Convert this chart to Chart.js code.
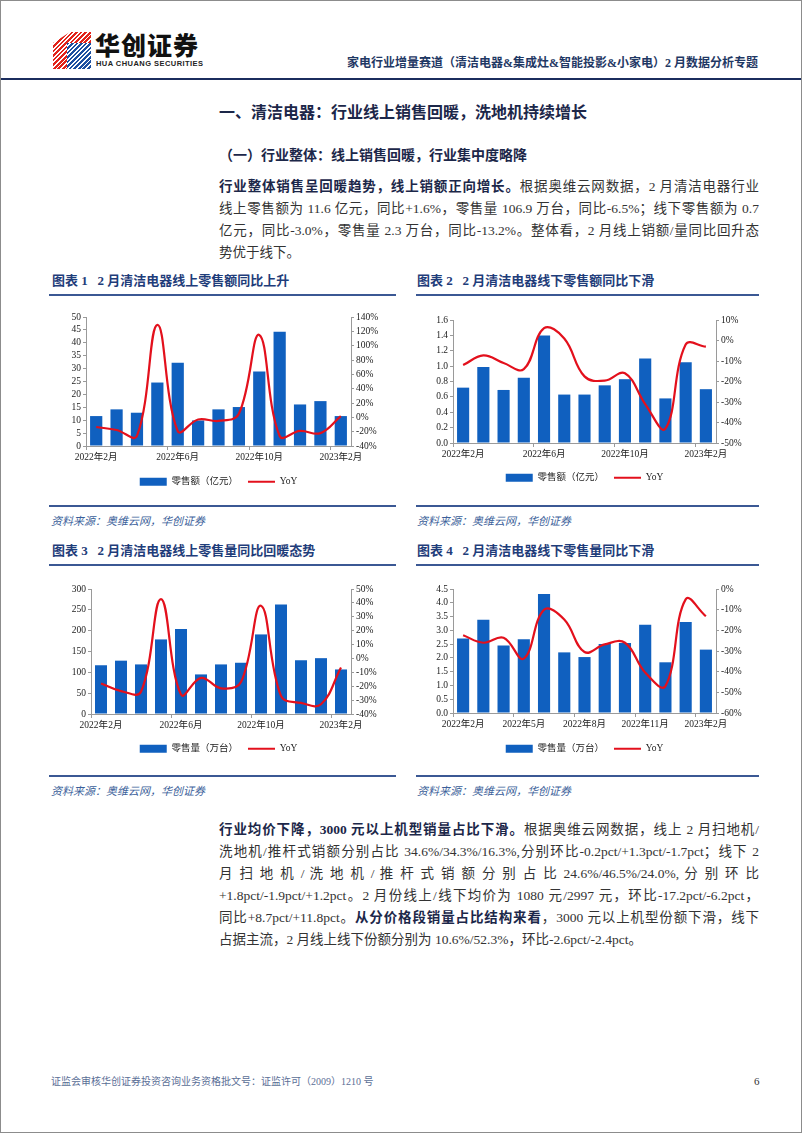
<!DOCTYPE html>
<html>
<head>
<meta charset="utf-8">
<script src="https://cdn.jsdelivr.net/npm/chart.js@4.4.0/dist/chart.umd.min.js"></script>
<style>
  body { margin: 0; background: #fff; }
  #page {
    position: relative; width: 802px; height: 1133px; box-sizing: border-box;
    border: 1px solid #8c8c8c; overflow: hidden;
    font-family: "Liberation Serif", "Noto Sans CJK SC", serif; color: #333;
  }
  .a { position: absolute; white-space: nowrap; }
  .line { position: absolute; left: 218px; width: 540px; height: 22px; line-height: 22px;
          font-size: 13.5px; white-space: nowrap; text-align: justify; text-align-last: justify; }
  .line.last { text-align: left; text-align-last: left; }
  .b { font-weight: bold; color: #1c2749; }
  .ctitle { position: absolute; font-size: 13px; font-weight: bold; color: #1f3d7a; line-height: 18px; }
  .rule { position: absolute; height: 2px; background: #3b5894; }
  .src { position: absolute; font-size: 11px; font-style: italic; color: #3c5f9a; line-height: 16px; }
  .box { position: absolute; }
</style>
</head>
<body>
<div id="page">
  <!-- header -->
  <div class="a" style="left:52px;top:31px;width:38px;height:37px;
       background:repeating-linear-gradient(135deg,#e2231a 0 2px,#fff 2px 3.2px);
       clip-path:polygon(0 30%,45% 0,100% 0,100% 100%,0 100%);"></div>
  <div class="a" style="left:66px;top:42px;width:24px;height:26px;
       background:repeating-linear-gradient(135deg,#1d4fa0 0 2px,#fff 2px 3.2px);"></div>
  <div class="a" style="left:94px;top:27px;font-family:'Noto Sans CJK SC';font-weight:900;font-size:25px;color:#111;letter-spacing:1px;line-height:32px;">华创证券</div>
  <div class="a" style="left:95px;top:58px;font-family:'Liberation Sans';font-weight:bold;font-size:7.5px;color:#222;letter-spacing:0.45px;line-height:9px;">HUA CHUANG SECURITIES</div>
  <div class="a" style="right:43px;top:54px;font-size:12px;font-weight:bold;color:#1f3864;line-height:16px;">家电行业增量赛道（清洁电器&amp;集成灶&amp;智能投影&amp;小家电）2 月数据分析专题</div>
  <div class="a" style="left:0;top:77px;width:802px;height:2px;background:#1b2d5e;"></div>

  <!-- headings -->
  <div class="a" style="left:218px;top:100px;font-size:16px;font-weight:bold;color:#1c2749;line-height:24px;">一、清洁电器：行业线上销售回暖，洗地机持续增长</div>
  <div class="a" style="left:218px;top:145px;font-size:14px;font-weight:bold;color:#1c2749;line-height:20px;">（一）行业整体：线上销售回暖，行业集中度略降</div>

  <div class="line" style="top:175px;"><span class="b">行业整体销售呈回暖趋势，线上销额正向增长。</span>根据奥维云网数据，2 月清洁电器行业</div>
  <div class="line" style="top:197px;">线上零售额为 11.6 亿元，同比+1.6%，零售量 106.9 万台，同比-6.5%；线下零售额为 0.7</div>
  <div class="line" style="top:219px;">亿元，同比-3.0%，零售量 2.3 万台，同比-13.2%。整体看，2 月线上销额/量同比回升态</div>
  <div class="line last" style="top:241px;">势优于线下。</div>

  <!-- chart titles row 1 -->
  <div class="ctitle" style="left:51px;top:271px;">图表 1&nbsp;&nbsp;&nbsp;2 月清洁电器线上零售额同比上升</div>
  <div class="rule" style="left:48px;top:293px;width:347px;"></div>
  <div class="ctitle" style="left:416px;top:271px;">图表 2&nbsp;&nbsp;&nbsp;2 月清洁电器线下零售额同比下滑</div>
  <div class="rule" style="left:415px;top:293px;width:343px;"></div>

  <div class="box" style="left:48px;top:298px;"><canvas id="c1" width="347" height="202"></canvas></div>
  <div class="box" style="left:415px;top:298px;"><canvas id="c2" width="345" height="202"></canvas></div>

  <div class="rule" style="left:48px;top:504px;width:347px;"></div>
  <div class="rule" style="left:415px;top:504px;width:343px;"></div>
  <div class="src" style="left:50px;top:512px;">资料来源：奥维云网，华创证券</div>
  <div class="src" style="left:416px;top:512px;">资料来源：奥维云网，华创证券</div>

  <!-- chart titles row 2 -->
  <div class="ctitle" style="left:51px;top:541px;">图表 3&nbsp;&nbsp;&nbsp;2 月清洁电器线上零售量同比回暖态势</div>
  <div class="rule" style="left:48px;top:563px;width:347px;"></div>
  <div class="ctitle" style="left:416px;top:541px;">图表 4&nbsp;&nbsp;&nbsp;2 月清洁电器线下零售量同比下滑</div>
  <div class="rule" style="left:415px;top:563px;width:343px;"></div>

  <div class="box" style="left:48px;top:568px;"><canvas id="c3" width="347" height="202"></canvas></div>
  <div class="box" style="left:415px;top:568px;"><canvas id="c4" width="345" height="202"></canvas></div>

  <div class="rule" style="left:48px;top:774px;width:347px;"></div>
  <div class="rule" style="left:415px;top:774px;width:343px;"></div>
  <div class="src" style="left:50px;top:782px;">资料来源：奥维云网，华创证券</div>
  <div class="src" style="left:416px;top:782px;">资料来源：奥维云网，华创证券</div>

  <!-- paragraph 2 -->
  <div class="line" style="top:818px;"><span class="b">行业均价下降，3000 元以上机型销量占比下滑。</span>根据奥维云网数据，线上 2 月扫地机/</div>
  <div class="line" style="top:840px;">洗地机/推杆式销额分别占比 34.6%/34.3%/16.3%,分别环比-0.2pct/+1.3pct/-1.7pct；线下 2</div>
  <div class="line" style="top:862px;">月 扫 地 机 / 洗 地 机 / 推 杆 式 销 额 分 别 占 比 24.6%/46.5%/24.0%, 分 别 环 比</div>
  <div class="line" style="top:884px;">+1.8pct/-1.9pct/+1.2pct。2 月份线上/线下均价为 1080 元/2997 元，环比-17.2pct/-6.2pct，</div>
  <div class="line" style="top:906px;">同比+8.7pct/+11.8pct。<span class="b">从分价格段销量占比结构来看</span>，3000 元以上机型份额下滑，线下</div>
  <div class="line last" style="top:928px;">占据主流，2 月线上线下份额分别为 10.6%/52.3%，环比-2.6pct/-2.4pct。</div>

  <!-- footer -->
  <div class="a" style="left:50px;top:1074px;font-size:10px;color:#5a6e96;line-height:14px;">证监会审核华创证券投资咨询业务资格批文号：证监许可（2009）1210 号</div>
  <div class="a" style="left:753px;top:1073px;font-size:11px;color:#333;line-height:14px;">6</div>
</div>

<script>
// months 2022-02 .. 2023-02
var months = ["2022年2月","2022年3月","2022年4月","2022年5月","2022年6月","2022年7月","2022年8月",
              "2022年9月","2022年10月","2022年11月","2022年12月","2023年1月","2023年2月"];

// 图表1 线上零售额（亿元）/ YoY(%)
var onlineSales    = [11.6, 14.2, 12.9, 24.6, 32.3, 9.9, 14.2, 15.1, 28.9, 44.3, 16.1, 17.4, 11.6];
var onlineSalesYoY = [-13.5, -17.7, -26, 129, -19, -3, -5, 5, 115, -26, -19, -22, 1.6];

// 图表2 线下零售额（亿元）/ YoY(%)
var offlineSales    = [0.72, 0.99, 0.69, 0.85, 1.40, 0.63, 0.63, 0.75, 0.83, 1.10, 0.58, 1.05, 0.70];
var offlineSalesYoY = [-12, -7.3, -11, -14, 6, 1, -17.5, -19.6, -16, -31, -43, -2, -3.0];

// 图表3 线上零售量（万台）/ YoY(%)
var onlineVolume    = [117, 128, 119, 179, 204, 95, 119, 123, 191, 263, 129, 134, 106.9];
var onlineVolumeYoY = [-18, -23.5, -24, 42.7, -26, -14, -21.5, -17, 38, -27, -32, -33, -6.5];

// 图表4 线下零售量（万台）/ YoY(%)
var offlineVolume    = [2.70, 3.38, 2.45, 2.68, 4.32, 2.20, 2.03, 2.50, 2.54, 3.20, 1.84, 3.30, 2.3];
var offlineVolumeYoY = [-22.4, -26, -23.6, -33.7, -10, -14.8, -30.5, -26.8, -26, -40.4, -47, -5, -13.2];

var BLUE = "#1060bf";
var RED = "#e3101c";
var AXIS = "#9a9a9a";
var TICKFONT = { family: "'Liberation Serif','Noto Sans CJK SC'", size: 9.5 };

function makeChart(id, c) {
  return new Chart(document.getElementById(id), {
    type: "bar",
    data: {
      labels: months,
      datasets: [{
        label: c.barLabel,
        data: c.bars,
        backgroundColor: BLUE,
        barPercentage: 0.6,
        categoryPercentage: 1,
        yAxisID: "y",
        order: 1,
        pointStyle: "rect"
      }, {
        type: "line",
        label: "YoY",
        data: c.yoy,
        borderColor: RED,
        backgroundColor: RED,
        borderWidth: 2.2,
        tension: 0.4,
        pointRadius: 0,
        fill: false,
        yAxisID: "y1",
        order: 0,
        pointStyle: "line"
      }]
    },
    options: {
      responsive: false,
      animation: false,
      devicePixelRatio: 1,
      layout: { padding: { left: 4, right: 12, top: c.padTop, bottom: c.padBottom } },
      plugins: {
        tooltip: { enabled: false },
        legend: {
          position: "bottom",
          labels: {
            usePointStyle: true,
            pointStyleWidth: 27,
            boxHeight: 8,
            padding: 10,
            color: "#222",
            font: { family: "'Liberation Serif','Noto Sans CJK SC'", size: 9.5 },
            sort: function (a, b) { return a.datasetIndex - b.datasetIndex; }
          }
        }
      },
      scales: {
        x: {
          grid: {
            drawOnChartArea: false,
            tickLength: 4,
            color: function (ctx) { return ctx.index % c.step === 0 ? AXIS : "rgba(0,0,0,0)"; }
          },
          border: { color: AXIS },
          ticks: {
            autoSkip: false, maxRotation: 0, padding: 2, color: "#222", font: TICKFONT,
            callback: function (v, i) { return i % c.step === 0 ? this.getLabelForValue(v) : ""; }
          },
          afterFit: function (s) { s.height = c.xh; }
        },
        y: {
          position: "left",
          min: c.yMin, max: c.yMax,
          grid: { drawOnChartArea: false, tickLength: 3, color: AXIS },
          border: { color: AXIS },
          ticks: {
            autoSkip: false, stepSize: c.yStep, padding: 2, color: "#222", font: TICKFONT,
            callback: function (v) { return c.yDec ? v.toFixed(1) : Math.round(v); }
          },
          afterFit: function (s) { s.width = c.yw; }
        },
        y1: {
          position: "right",
          min: c.rMin, max: c.rMax,
          grid: { drawOnChartArea: false, tickLength: 3, color: AXIS },
          border: { color: AXIS },
          ticks: {
            autoSkip: false, stepSize: c.rStep, padding: 2, color: "#222", font: TICKFONT,
            callback: function (v) { return Math.round(v) + "%"; }
          },
          afterFit: function (s) { s.width = 33; }
        }
      }
    }
  });
}

makeChart("c1", { barLabel: "零售额（亿元）", bars: onlineSales, yoy: onlineSalesYoY, step: 4,
  yMin: 0, yMax: 50, yStep: 5, rMin: -40, rMax: 140, rStep: 20, yDec: false,
  padTop: 18, padBottom: 4.5, xh: 21, yw: 33 });
makeChart("c2", { barLabel: "零售额（亿元）", bars: offlineSales, yoy: offlineSalesYoY, step: 4,
  yMin: 0, yMax: 1.6, yStep: 0.2, rMin: -50, rMax: 10, rStep: 10, yDec: true,
  padTop: 21, padBottom: 8.5, xh: 20, yw: 33 });
makeChart("c3", { barLabel: "零售量（万台）", bars: onlineVolume, yoy: onlineVolumeYoY, step: 4,
  yMin: 0, yMax: 300, yStep: 50, rMin: -40, rMax: 50, rStep: 10, yDec: false,
  padTop: 20, padBottom: 7.5, xh: 20, yw: 38 });
makeChart("c4", { barLabel: "零售量（万台）", bars: offlineVolume, yoy: offlineVolumeYoY, step: 3,
  yMin: 0, yMax: 4.5, yStep: 0.5, rMin: -60, rMax: 0, rStep: 10, yDec: true,
  padTop: 20, padBottom: 7.5, xh: 21, yw: 33 });
</script>
</body>
</html>
